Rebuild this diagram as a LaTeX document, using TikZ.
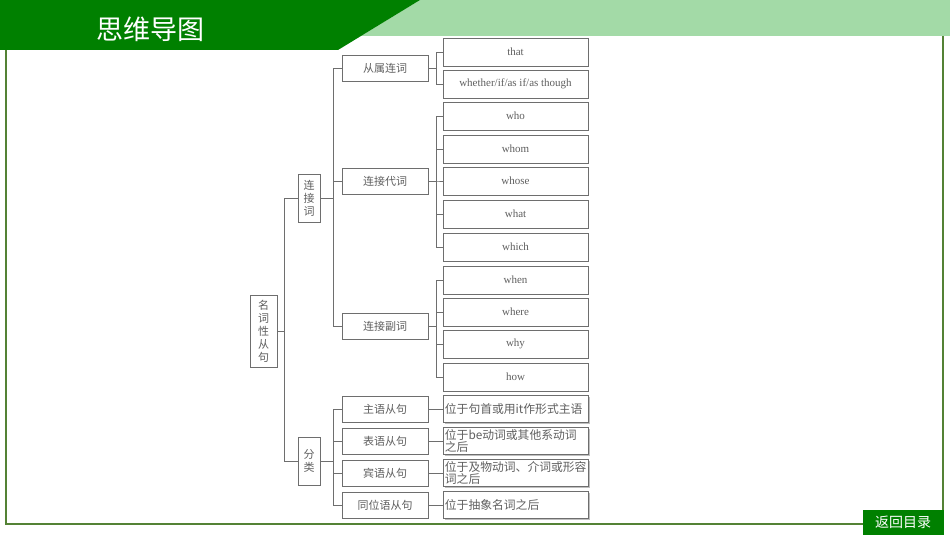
\documentclass[tikz,border=0pt]{standalone}
\usepackage{fontspec}
\setmainfont{Liberation Serif}
\newfontfamily\cjk{Noto Sans CJK SC}
\usepackage{tikz}
\usetikzlibrary{positioning,shadows}
\definecolor{mygreen}{RGB}{0,128,0}
\definecolor{mylightgreen}{RGB}{163,218,167}
\definecolor{myframe}{RGB}{84,130,53}
\definecolor{myline}{RGB}{110,110,110}
\definecolor{mytext}{RGB}{95,95,95}
\tikzstyle{box}=[draw=myline,fill=white,text=mytext,inner sep=1pt,drop shadow={shadow xshift=1.2pt,shadow yshift=-1.2pt,fill=black!25,opacity=1}]
\tikzstyle{vbox}=[box,minimum width=22pt,align=center,font=\cjk\fontsize{11}{13}\selectfont]
\tikzstyle{mid}=[box,minimum width=86pt,minimum height=26pt,font=\cjk\fontsize{11}{13}\selectfont]
\tikzstyle{leaf}=[box,minimum width=145pt,minimum height=28pt,font=\fontsize{11}{12}\selectfont]
\tikzstyle{note}=[box,inner xsep=1.5pt,text width=142pt,minimum height=27pt,align=left,font=\cjk\fontsize{11.8}{11.5}\selectfont]
\tikzstyle{link}=[draw=myline,line width=0.7pt]

\begin{document}
\begin{tikzpicture}[x=1pt,y=-1pt]
\useasboundingbox (0,0) rectangle (950,535);
\fill[mylightgreen] (420,0) -- (950,0) -- (950,36) -- (361,36) -- cycle;
\fill[mygreen] (0,0) -- (420,0) -- (338,50) -- (0,50) -- cycle;
\node[text=white,font=\cjk\fontsize{27}{27}\selectfont] (title) at (150,29) {思维导图};
\draw[myframe,line width=2pt] (6,50) -- (6,524) -- (863,524);
\draw[myframe,line width=2pt] (943,36) -- (943,510);
\node[fill=mygreen,text=white,minimum width=81pt,minimum height=25pt,inner sep=0pt,font=\cjk\fontsize{14}{14}\selectfont] (back) at (903,522) {返回目录};

\node [vbox,minimum width=27pt,minimum height=72pt] (root) at (263.5,331) {名\\词\\性\\从\\句};
\node [vbox,minimum height=48pt] (lj) at (309,198) {连\\接\\词};
\node [vbox,minimum height=48pt] (fl) at (309,461) {分\\类};

\node [mid] (cs) at (385,68) {从属连词};
\node [mid] (dc) at (385,181) {连接代词};
\node [mid] (fc) at (385,326) {连接副词};
\node [mid] (zy) at (385,409) {主语从句};
\node [mid] (by) at (385,441) {表语从句};
\node [mid] (bin) at (385,473) {宾语从句};
\node [mid] (tw) at (385,505) {同位语从句};

\foreach \n/\t/\y in {that/that/52,whether/whether\slash if\slash as if\slash as though/84,
  who/who/116,whom/whom/149,whose/whose/181,what/what/214,which/which/247,
  when/when/280,where/where/312,why/why/344,how/how/377}
  \node [leaf] (\n) at (515.5,\y) {\t};

\node [note,right=15pt of zy] (n1) {位于句首或用it作形式主语};
\node [note,right=15pt of by] (n2) {位于be动词或其他系动词\\之后};
\node [note,right=15pt of bin] (n3) {位于及物动词、介词或形容\\词之后};
\node [note,right=15pt of tw] (n4) {位于抽象名词之后};

\foreach \b in {lj,fl}
  \draw[link] (root.east) -- +(7,0) |- (\b.west);
\foreach \b in {cs,dc,fc}
  \draw[link] (lj.east) -- +(13,0) |- (\b.west);
\foreach \b in {zy,by,bin,tw}
  \draw[link] (fl.east) -- +(13,0) |- (\b.west);
\foreach \a/\b in {cs/that,cs/whether,dc/who,dc/whom,dc/whose,dc/what,dc/which,
  fc/when,fc/where,fc/why,fc/how}
  \draw[link] (\a.east) -- +(8,0) |- (\b.west);
\foreach \a/\b in {zy/n1,by/n2,bin/n3,tw/n4}
  \draw[link] (\a) -- (\b);
\end{tikzpicture}
\end{document}
